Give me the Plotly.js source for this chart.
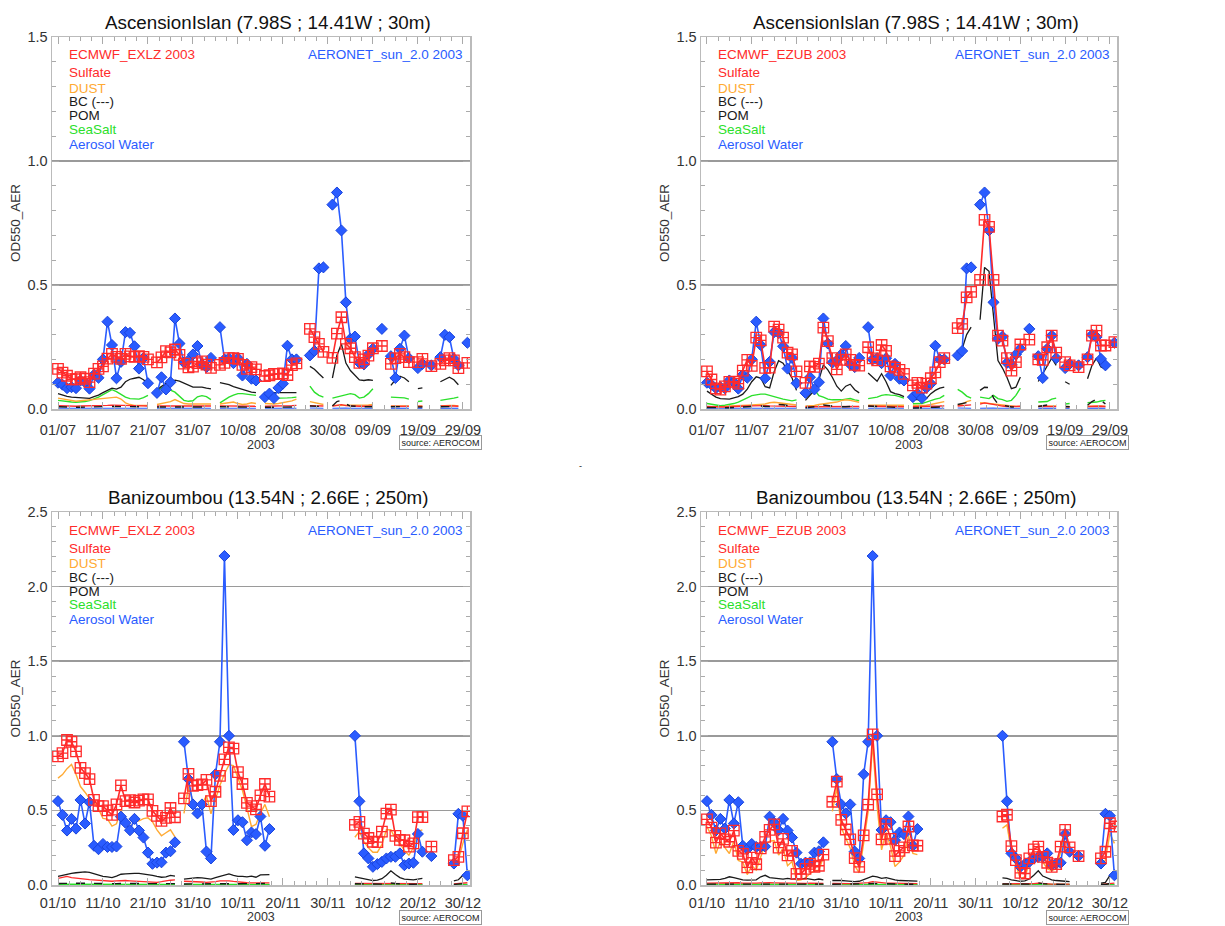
<!DOCTYPE html>
<html><head><meta charset="utf-8">
<script src="https://cdn.plot.ly/plotly-3.0.1.min.js"></script>
<style>html,body{margin:0;padding:0;background:#fff}</style>
</head><body><div id="chart" style="width:1225px;height:926px"></div>
<script>
const N = null;

// ---------- Ascension Island, Jul-Sep 2003 (index 0 = 01/07) ----------
const aeronetTop = [
 0.106,0.098,0.084,0.088,0.084,0.115,0.108,0.082,0.138,0.126,0.2,0.352,0.258,0.124,0.19,0.31,0.307,0.253,0.163,0.206,0.104,
 N,
 0.065,0.128,0.079,0.108,0.365,0.264,0.187,0.196,0.22,0.254,0.18,0.169,0.206,
 N,
 0.33,0.2,0.205,0.185,0.205,0.135,0.182,0.122,0.115,
 N,
 0.048,0.062,0.044,0.085,0.102,0.255,0.2,0.2,
 N,N,
 0.216,0.234,0.567,0.571,
 N,
 0.824,0.873,0.72,0.43,0.283,0.292,0.186,0.18,0.22,0.243,
 N, 0.323, N,
 0.213,0.125,0.243,0.296,0.205,
 N, 0.165,0.182, N, 0.176, N,
 0.209,0.299,0.29,0.202,0.176,
 N, 0.267];

const exlzTotalTop = [
 0.162,0.147,0.134,0.12,0.12,0.128,0.122,0.108,0.143,0.162,0.172,0.203,0.222,0.21,0.202,0.222,0.212,0.21,0.213,0.21,0.2,
 N,
 0.188,0.208,0.233,0.228,0.24,0.218,0.183,0.168,0.171,0.185,0.192,0.179,0.166,
 N,
 0.178,0.186,0.205,0.205,0.202,0.178,0.162,0.169,0.16,
 N,
 0.133,0.136,0.142,0.142,0.144,0.137,0.177,0.184,
 N,N,
 0.323,0.29,0.263,0.23,
 N,
 0.206,0.304,0.37,0.263,0.245,0.209,0.186,0.2,0.215,0.245,
 N, 0.254, N,
 0.182,0.205,0.222,0.209,0.189,
 N, 0.189,0.202, N, 0.173, N,
 0.182,0.196,0.205,0.196,0.165,
 N, 0.186];
const exlzSulfateTop = [
 0.014,0.013,0.012,0.011,0.011,0.012,0.012,0.012,0.013,0.014,0.015,0.015,0.016,0.016,0.015,0.014,0.014,0.013,0.013,0.013,0.012,
 N,
 0.012,0.012,0.013,0.013,0.014,0.013,0.012,0.012,0.011,0.011,0.012,0.012,0.012,
 N,
 0.013,0.013,0.012,0.012,0.012,0.011,0.011,0.011,0.011,
 N,
 0.011,0.011,0.011,0.012,0.012,0.013,0.014,0.015,
 N,N,
 0.014,0.013,0.012,0.012,
 N,
 0.012,0.015,0.018,0.014,0.012,0.012,0.011,0.011,0.012,0.013,
 N, 0.012, N,
 0.011,0.011,0.012,0.012,0.011,
 N, 0.011,0.011, N, 0.011, N,
 0.012,0.013,0.013,0.012,0.011,
 N, 0.011];
const exlzDustTop = [
 0.044,0.04,0.036,0.032,0.031,0.033,0.035,0.036,0.038,0.04,0.042,0.044,0.046,0.048,0.04,0.025,0.018,0.014,0.014,0.014,0.014,
 N,
 0.018,0.022,0.025,0.03,0.038,0.03,0.022,0.02,0.02,0.02,0.02,0.02,0.02,
 N,
 0.02,0.022,0.025,0.028,0.022,0.018,0.02,0.025,0.022,
 N,
 0.022,0.02,0.02,0.022,0.025,0.028,0.033,0.04,
 N,N,
 0.03,0.025,0.02,0.018,
 N,
 0.014,0.014,0.015,0.014,0.014,0.014,0.015,0.015,0.016,0.018,
 N, 0.015, N,
 0.012,0.012,0.012,0.012,0.012,
 N, 0.012,0.012, N, 0.01, N,
 0.012,0.014,0.014,0.014,0.012,
 N, 0.012];
const exlzBCTop = [
 0.009,0.008,0.008,0.007,0.007,0.007,0.008,0.008,0.008,0.009,0.009,0.01,0.01,0.01,0.01,0.01,0.01,0.01,0.01,0.01,0.009,
 N,
 0.008,0.008,0.009,0.009,0.01,0.01,0.009,0.009,0.008,0.008,0.008,0.008,0.008,
 N,
 0.009,0.009,0.009,0.008,0.008,0.008,0.007,0.007,0.007,
 N,
 0.007,0.007,0.007,0.007,0.007,0.007,0.008,0.008,
 N,N,
 0.012,0.011,0.01,0.01,
 N,
 0.012,0.03,0.035,0.02,0.012,0.01,0.009,0.009,0.009,0.009,
 N, 0.009, N,
 0.009,0.01,0.011,0.011,0.01,
 N, 0.008,0.008, N, 0.008, N,
 0.009,0.01,0.011,0.01,0.009,
 N, 0.009];
const exlzPOMTop = [
 0.062,0.056,0.051,0.048,0.046,0.045,0.044,0.043,0.05,0.056,0.066,0.076,0.084,0.08,0.088,0.11,0.12,0.124,0.128,0.118,0.103,
 N,
 0.078,0.089,0.103,0.108,0.116,0.112,0.105,0.095,0.088,0.088,0.088,0.084,0.081,
 N,
 0.106,0.102,0.098,0.09,0.084,0.078,0.071,0.068,0.066,
 N,
 0.066,0.066,0.065,0.066,0.066,0.066,0.066,0.066,
 N,N,
 0.172,0.16,0.142,0.125,
 N,
 0.125,0.216,0.263,0.185,0.155,0.135,0.117,0.115,0.118,0.115,
 N, 0.11, N,
 0.095,0.118,0.132,0.125,0.11,
 N, 0.082,0.085, N, 0.09, N,
 0.11,0.12,0.128,0.118,0.098,
 N, 0.1];
const exlzSeaSaltTop = [
 0.035,0.032,0.03,0.028,0.027,0.028,0.03,0.034,0.04,0.048,0.058,0.068,0.078,0.07,0.058,0.048,0.042,0.04,0.04,0.046,0.055,
 N,
 0.072,0.085,0.089,0.076,0.068,0.051,0.035,0.031,0.033,0.049,0.054,0.05,0.038,
 N,
 0.025,0.038,0.048,0.056,0.062,0.062,0.06,0.058,0.055,
 N,
 0.042,0.042,0.043,0.044,0.045,0.045,0.046,0.048,
 N,N,
 0.092,0.068,0.055,0.048,
 N,
 0.044,0.048,0.055,0.058,0.062,0.058,0.044,0.048,0.062,0.082,
 N, 0.04, N,
 0.048,0.047,0.046,0.045,0.04,
 N, 0.03,0.032, N, 0.03, N,
 0.035,0.037,0.04,0.044,0.048,
 N, 0.04];
const exlzWaterTop = [
 0.003,0.003,0.003,0.003,0.003,0.003,0.003,0.003,0.003,0.004,0.004,0.004,0.004,0.004,0.004,0.004,0.004,0.004,0.004,0.003,0.003,
 N,
 0.003,0.003,0.003,0.003,0.004,0.004,0.003,0.003,0.003,0.003,0.003,0.003,0.003,
 N,
 0.003,0.003,0.003,0.003,0.003,0.003,0.003,0.003,0.003,
 N,
 0.003,0.003,0.003,0.003,0.003,0.003,0.003,0.003,
 N,N,
 0.004,0.004,0.003,0.003,
 N,
 0.003,0.004,0.005,0.004,0.003,0.003,0.003,0.003,0.003,0.003,
 N, 0.003, N,
 0.003,0.003,0.003,0.003,0.003,
 N, 0.003,0.003, N, 0.003, N,
 0.003,0.003,0.003,0.003,0.003,
 N, 0.003];

const ezubTotalTop = [
 0.152,0.119,0.083,0.078,0.091,0.109,0.11,0.102,0.155,0.198,0.174,0.288,0.277,0.166,0.167,0.332,0.32,0.288,0.227,0.22,0.152,
 N,
 0.105,0.172,0.17,0.183,0.328,0.274,0.205,0.16,0.198,0.22,0.198,0.178,0.175,
 N,
 0.249,0.204,0.196,0.258,0.234,0.172,0.167,0.158,0.142,
 N,
 0.095,0.105,0.086,0.102,0.124,0.148,0.189,0.205,
 N,N,
 0.326,0.343,0.45,0.472,
 N,
 0.521,0.763,0.734,0.521,0.296,0.276,0.205,0.155,0.189,0.26,
 N, 0.28, N,
 0.2,0.198,0.249,0.296,0.227,
 N, 0.189,0.176, N, 0.169, N,
 0.2,0.296,0.316,0.256,0.256,
 N, 0.27];
const ezubSulfateTop = [
 0.01,0.009,0.008,0.008,0.008,0.009,0.009,0.01,0.011,0.012,0.013,0.014,0.014,0.014,0.013,0.013,0.012,0.012,0.011,0.011,0.01,
 N,
 0.009,0.009,0.01,0.011,0.012,0.012,0.011,0.011,0.01,0.01,0.01,0.01,0.01,
 N,
 0.011,0.011,0.01,0.01,0.01,0.01,0.009,0.009,0.009,
 N,
 0.009,0.009,0.009,0.01,0.01,0.011,0.012,0.013,
 N,N,
 0.012,0.013,0.015,0.017,
 N,
 0.02,0.025,0.022,0.018,0.014,0.012,0.01,0.01,0.01,0.011,
 N, 0.01, N,
 0.01,0.01,0.011,0.011,0.01,
 N, 0.009,0.009, N, 0.009, N,
 0.01,0.011,0.012,0.011,0.01,
 N, 0.01];
const ezubDustTop = [
 0.008,0.008,0.007,0.008,0.01,0.012,0.012,0.013,0.014,0.015,0.016,0.017,0.018,0.02,0.025,0.027,0.025,0.022,0.02,0.018,0.016,
 N,
 0.012,0.012,0.014,0.018,0.02,0.022,0.024,0.028,0.034,0.037,0.035,0.032,0.027,
 N,
 0.015,0.015,0.014,0.015,0.016,0.016,0.016,0.015,0.015,
 N,
 0.014,0.014,0.014,0.015,0.018,0.022,0.027,0.03,
 N,N,
 0.015,0.02,0.03,0.035,
 N,
 0.025,0.025,0.022,0.02,0.018,0.015,0.012,0.012,0.01,0.01,
 N, 0.01, N,
 0.012,0.012,0.012,0.012,0.012,
 N, 0.01,0.01, N, 0.01, N,
 0.01,0.012,0.012,0.012,0.01,
 N, 0.01];
const ezubBCTop = [
 0.006,0.005,0.005,0.005,0.005,0.005,0.006,0.006,0.007,0.008,0.01,0.012,0.012,0.01,0.01,0.014,0.018,0.017,0.015,0.012,0.008,
 N,
 0.005,0.006,0.008,0.011,0.016,0.015,0.012,0.009,0.008,0.009,0.01,0.008,0.007,
 N,
 0.012,0.011,0.01,0.012,0.01,0.007,0.006,0.006,0.005,
 N,
 0.004,0.004,0.004,0.005,0.006,0.007,0.008,0.009,
 N,N,
 0.018,0.022,0.028,0.03,
 N,
 0.075,0.088,0.086,0.045,0.02,0.016,0.012,0.008,0.008,0.012,
 N, 0.011, N,
 0.01,0.013,0.016,0.019,0.016,
 N, 0.01,0.009, N, 0.009, N,
 0.015,0.03,0.04,0.035,0.02,
 N, 0.014];
const ezubPOMTop = [
 0.072,0.06,0.048,0.042,0.04,0.04,0.045,0.05,0.06,0.08,0.11,0.13,0.125,0.09,0.085,0.15,0.195,0.185,0.155,0.125,0.075,
 N,
 0.035,0.055,0.075,0.118,0.178,0.158,0.128,0.092,0.072,0.092,0.1,0.078,0.065,
 N,
 0.145,0.13,0.112,0.142,0.11,0.07,0.062,0.058,0.05,
 N,
 0.038,0.038,0.033,0.042,0.062,0.075,0.084,0.088,
 N,N,
 0.205,0.243,0.3,0.33,
 N,
 0.36,0.571,0.555,0.37,0.195,0.165,0.128,0.082,0.088,0.129,
 N, 0.12, N,
 0.111,0.142,0.176,0.205,0.176,
 N, 0.11,0.1, N, 0.1, N,
 0.122,0.176,0.205,0.169,0.162,
 N, 0.15];
const ezubSeaSaltTop = [
 0.022,0.018,0.014,0.013,0.015,0.018,0.022,0.028,0.035,0.045,0.054,0.058,0.06,0.06,0.056,0.05,0.045,0.04,0.035,0.033,0.037,
 N,
 0.048,0.068,0.078,0.054,0.048,0.04,0.037,0.036,0.037,0.04,0.042,0.037,0.034,
 N,
 0.042,0.045,0.048,0.055,0.058,0.056,0.055,0.05,0.044,
 N,
 0.021,0.022,0.022,0.028,0.035,0.04,0.044,0.055,
 N,N,
 0.079,0.068,0.052,0.044,
 N,
 0.048,0.044,0.042,0.055,0.042,0.038,0.031,0.035,0.055,0.084,
 N, 0.04, N,
 0.028,0.028,0.03,0.04,0.044,
 N, 0.02,0.022, N, 0.02, N,
 0.025,0.025,0.028,0.032,0.035,
 N, 0.03];
const ezubWaterTop = exlzWaterTop.slice();

// ---------- Banizoumbou, Oct-Dec 2003 (index 0 = 01/10) ----------
const aeronetBot = [
 0.562,0.47,0.365,0.443,0.378,0.57,0.412,0.555,0.263,0.24,0.275,0.255,0.255,0.258,0.458,0.417,0.367,0.443,0.365,0.318,0.217,0.142,0.15,0.152,0.217,0.226,0.286,
 N,
 0.96,0.71,0.54,0.48,0.54,0.224,0.178,0.742,0.96,2.205,1.0,0.369,0.434,0.421,0.3,0.352,0.341,0.459,0.263,0.375,
 N,N,N,N,N,N,N,N,N,N,N,N,N,N,N,N,N,N,
 1.0,0.561,0.212,0.178,0.122,0.14,0.155,0.178,0.189,0.189,0.212,0.133,0.144,0.149,0.342,0.223,
 N, 0.194, N,N,N,N,
 0.144,0.477,0.464,0.065];

const exlzTotalBot = [
 0.862,0.884,0.972,0.96,0.895,0.785,0.75,0.71,0.571,0.528,0.528,0.5,0.47,0.54,0.668,0.562,0.569,0.553,0.566,0.574,0.574,0.497,0.463,0.43,0.45,0.516,0.454,
 N,
 0.58,0.745,0.665,0.669,0.674,0.704,0.562,0.625,0.732,0.842,0.923,0.914,0.757,0.677,0.551,0.528,0.507,0.601,0.677,0.592,
 N,N,N,N,N,N,N,N,N,N,N,N,N,N,N,N,N,N,
 0.403,0.423,0.345,0.315,0.29,0.288,0.358,0.479,0.505,0.329,0.302,0.3,0.257,0.279,0.455,0.455,
 N, 0.257, N,N,N,N,
 0.167,0.189,0.347,0.493];
const exlzSulfateBot = [
 0.045,0.052,0.058,0.05,0.045,0.042,0.04,0.036,0.033,0.03,0.028,0.026,0.025,0.028,0.03,0.03,0.028,0.026,0.024,0.022,0.022,0.02,0.018,0.022,0.028,0.032,0.034,
 N,
 0.025,0.025,0.024,0.022,0.02,0.018,0.018,0.022,0.028,0.03,0.028,0.024,0.02,0.018,0.015,0.014,0.013,0.013,0.014,0.014,
 N,N,N,N,N,N,N,N,N,N,N,N,N,N,N,N,N,N,
 0.01,0.01,0.009,0.008,0.008,0.008,0.009,0.01,0.012,0.01,0.009,0.008,0.008,0.008,0.009,0.009,
 N, 0.008, N,N,N,N,
 0.008,0.01,0.012,0.015];
const exlzDustBot = [
 0.716,0.74,0.78,0.808,0.742,0.66,0.622,0.58,0.556,0.51,0.446,0.442,0.395,0.41,0.505,0.398,0.39,0.424,0.43,0.445,0.45,0.425,0.37,0.33,0.35,0.37,0.323,
 N,
 0.48,0.657,0.563,0.54,0.54,0.6,0.477,0.575,0.669,0.744,0.805,0.8,0.716,0.634,0.516,0.392,0.406,0.481,0.54,0.458,
 N,N,N,N,N,N,N,N,N,N,N,N,N,N,N,N,N,N,
 0.32,0.36,0.29,0.25,0.22,0.22,0.27,0.37,0.37,0.31,0.28,0.23,0.2,0.25,0.36,0.37,
 N, 0.2, N,N,N,N,
 0.133,0.167,0.279,0.369];
const exlzBCBot = [
 0.01,0.011,0.012,0.012,0.012,0.012,0.012,0.011,0.01,0.009,0.009,0.008,0.008,0.009,0.01,0.01,0.01,0.01,0.01,0.01,0.009,0.009,0.008,0.008,0.008,0.009,0.009,
 N,
 0.007,0.007,0.008,0.008,0.008,0.007,0.007,0.008,0.009,0.01,0.011,0.01,0.009,0.009,0.008,0.009,0.008,0.01,0.01,0.01,
 N,N,N,N,N,N,N,N,N,N,N,N,N,N,N,N,N,N,
 0.008,0.007,0.006,0.005,0.005,0.005,0.006,0.009,0.013,0.01,0.007,0.006,0.005,0.005,0.006,0.007,
 N, 0.006, N,N,N,N,
 0.004,0.005,0.009,0.013];
const exlzPOMBot = [
 0.058,0.065,0.075,0.078,0.082,0.085,0.088,0.085,0.075,0.065,0.058,0.054,0.05,0.06,0.072,0.075,0.078,0.078,0.078,0.075,0.07,0.065,0.058,0.052,0.055,0.065,0.06,
 N,
 0.04,0.045,0.048,0.05,0.048,0.042,0.04,0.05,0.058,0.068,0.075,0.065,0.058,0.058,0.055,0.06,0.052,0.068,0.07,0.07,
 N,N,N,N,N,N,N,N,N,N,N,N,N,N,N,N,N,N,
 0.055,0.048,0.04,0.034,0.03,0.032,0.042,0.065,0.095,0.07,0.05,0.04,0.035,0.035,0.04,0.045,
 N, 0.04, N,N,N,N,
 0.027,0.035,0.065,0.09];
const exlzSeaSaltBot = [
 0.005,0.005,0.005,0.005,0.005,0.005,0.005,0.005,0.004,0.004,0.004,0.004,0.004,0.004,0.005,0.005,0.005,0.005,0.005,0.005,0.004,0.004,0.004,0.004,0.004,0.004,0.004,
 N,
 0.004,0.004,0.004,0.004,0.004,0.004,0.004,0.004,0.005,0.005,0.005,0.005,0.004,0.004,0.004,0.004,0.004,0.004,0.004,0.004,
 N,N,N,N,N,N,N,N,N,N,N,N,N,N,N,N,N,N,
 0.004,0.004,0.004,0.004,0.004,0.004,0.004,0.004,0.005,0.004,0.004,0.004,0.004,0.004,0.004,0.004,
 N, 0.004, N,N,N,N,
 0.003,0.003,0.004,0.004];
const exlzWaterBot = [
 0.002,0.002,0.002,0.002,0.002,0.002,0.002,0.002,0.002,0.002,0.002,0.002,0.002,0.002,0.002,0.002,0.002,0.002,0.002,0.002,0.002,0.002,0.002,0.002,0.002,0.002,0.002,
 N,
 0.002,0.002,0.002,0.002,0.002,0.002,0.002,0.002,0.002,0.002,0.002,0.002,0.002,0.002,0.002,0.002,0.002,0.002,0.002,0.002,
 N,N,N,N,N,N,N,N,N,N,N,N,N,N,N,N,N,N,
 0.002,0.002,0.002,0.002,0.002,0.002,0.002,0.002,0.002,0.002,0.002,0.002,0.002,0.002,0.002,0.002,
 N, 0.002, N,N,N,N,
 0.002,0.002,0.002,0.002];

const ezubTotalBot = [
 0.44,0.384,0.284,0.346,0.306,0.29,0.364,0.229,0.208,0.118,0.183,0.139,0.246,0.323,0.369,0.407,0.25,0.309,0.198,0.229,0.074,0.074,0.108,0.142,0.122,0.129,0.204,
 N,
 0.558,0.693,0.436,0.372,0.306,0.18,0.122,0.332,0.539,1.01,0.608,0.306,0.41,0.309,0.194,0.229,0.252,0.392,0.265,0.263,
 N,N,N,N,N,N,N,N,N,N,N,N,N,N,N,N,N,N,
 0.459,0.471,0.261,0.167,0.081,0.077,0.178,0.239,0.257,0.189,0.149,0.122,0.14,0.257,0.369,0.252,
 N, 0.194, N,N,N,N,
 0.178,0.223,0.414,0.392];
const ezubSulfateBot = [
 0.012,0.013,0.014,0.014,0.015,0.016,0.016,0.015,0.013,0.012,0.012,0.012,0.014,0.016,0.015,0.014,0.013,0.013,0.013,0.012,0.012,0.011,0.011,0.012,0.012,0.012,0.011,
 N,
 0.01,0.011,0.01,0.01,0.009,0.009,0.01,0.012,0.016,0.022,0.018,0.014,0.013,0.012,0.011,0.01,0.01,0.01,0.009,0.009,
 N,N,N,N,N,N,N,N,N,N,N,N,N,N,N,N,N,N,
 0.008,0.008,0.007,0.007,0.006,0.006,0.007,0.009,0.012,0.009,0.007,0.006,0.006,0.006,0.006,0.006,
 N, 0.006, N,N,N,N,
 0.004,0.005,0.008,0.012];
const ezubDustBot = [
 0.392,0.329,0.211,0.293,0.251,0.211,0.293,0.164,0.153,0.07,0.129,0.1,0.188,0.27,0.293,0.298,0.2,0.246,0.129,0.157,0.03,0.035,0.047,0.077,0.094,0.1,0.188,
 N,
 0.493,0.65,0.383,0.317,0.246,0.129,0.082,0.282,0.493,0.95,0.528,0.235,0.352,0.258,0.124,0.153,0.2,0.329,0.211,0.204,
 N,N,N,N,N,N,N,N,N,N,N,N,N,N,N,N,N,N,
 0.38,0.403,0.223,0.133,0.043,0.054,0.144,0.189,0.2,0.155,0.11,0.095,0.11,0.223,0.351,0.223,
 N, 0.15, N,N,N,N,
 0.133,0.167,0.347,0.279];
const ezubBCBot = [
 0.006,0.006,0.006,0.006,0.007,0.008,0.008,0.007,0.006,0.006,0.006,0.006,0.008,0.01,0.008,0.007,0.007,0.007,0.007,0.007,0.007,0.007,0.007,0.007,0.006,0.006,0.006,
 N,
 0.005,0.005,0.005,0.005,0.004,0.004,0.004,0.006,0.008,0.01,0.009,0.007,0.008,0.007,0.006,0.005,0.005,0.005,0.005,0.005,
 N,N,N,N,N,N,N,N,N,N,N,N,N,N,N,N,N,N,
 0.007,0.007,0.006,0.005,0.004,0.005,0.006,0.01,0.014,0.009,0.007,0.006,0.005,0.004,0.004,0.004,
 N, 0.004, N,N,N,N,
 0.003,0.003,0.01,0.015];
const ezubPOMBot = [
 0.035,0.035,0.033,0.038,0.045,0.055,0.05,0.04,0.035,0.033,0.033,0.035,0.055,0.065,0.05,0.045,0.045,0.04,0.045,0.04,0.042,0.04,0.045,0.04,0.035,0.04,0.035,
 N,
 0.03,0.032,0.03,0.028,0.025,0.022,0.025,0.035,0.048,0.06,0.055,0.045,0.05,0.04,0.035,0.03,0.028,0.028,0.026,0.026,
 N,N,N,N,N,N,N,N,N,N,N,N,N,N,N,N,N,N,
 0.048,0.045,0.035,0.03,0.025,0.028,0.04,0.065,0.095,0.06,0.045,0.035,0.03,0.025,0.025,0.022,
 N, 0.02, N,N,N,N,
 0.012,0.018,0.065,0.1];
const ezubSeaSaltBot = exlzSeaSaltBot.slice();
const ezubWaterBot = exlzWaterBot.slice();

// ---------- helpers ----------
function dayList(y, m, d, n) {
  const out = [];
  for (let i = 0; i < n; i++) out.push(new Date(Date.UTC(y, m - 1, d + i)).toISOString().slice(0, 10));
  return out;
}
const datesTop = dayList(2003, 7, 1, 92);
const datesBot = dayList(2003, 10, 1, 92);

const allArrays = {aeronetTop, exlzTotalTop, exlzSulfateTop, exlzDustTop, exlzBCTop, exlzPOMTop, exlzSeaSaltTop, exlzWaterTop,
  ezubTotalTop, ezubSulfateTop, ezubDustTop, ezubBCTop, ezubPOMTop, ezubSeaSaltTop, aeronetBot, exlzTotalBot, exlzSulfateBot,
  exlzDustBot, exlzBCBot, exlzPOMBot, exlzSeaSaltBot, exlzWaterBot, ezubTotalBot, ezubSulfateBot, ezubDustBot, ezubBCBot, ezubPOMBot};
for (const k in allArrays) if (allArrays[k].length !== 92) throw new Error(k + ' length ' + allArrays[k].length);

const W = 1225, H = 926;
const FONT = 'Liberation Sans, Arial, Helvetica, sans-serif';
const C = {red: '#ff2b2b', orange: '#ffaa33', black: '#1a1a1a', green: '#2be02b', blue: '#2a5cff'};

const panels = [
  {xa: 'x', ya: 'y', L: 52, R: 470, T: 37, B: 409, dates: datesTop, ymax: 1.5, tick0: '2003-07-01',
   range: ['2003-06-29 16:00', '2003-09-30 14:00'], yearY: 445, srcY: 442, standoff: 7,
   title: 'AscensionIslan (7.98S ; 14.41W ; 30m)', model: 'ECMWF_EXLZ 2003', aer: aeronetTop,
   tot: exlzTotalTop, sul: exlzSulfateTop, dust: exlzDustTop, bc: exlzBCTop, pom: exlzPOMTop, ss: exlzSeaSaltTop, wat: exlzWaterTop},
  {xa: 'x2', ya: 'y2', L: 701, R: 1117, T: 37, B: 409, dates: datesTop, ymax: 1.5, tick0: '2003-07-01',
   range: ['2003-06-29 16:00', '2003-09-30 14:00'], yearY: 445, srcY: 442, standoff: 7,
   title: 'AscensionIslan (7.98S ; 14.41W ; 30m)', model: 'ECMWF_EZUB 2003', aer: aeronetTop,
   tot: ezubTotalTop, sul: ezubSulfateTop, dust: ezubDustTop, bc: ezubBCTop, pom: ezubPOMTop, ss: ezubSeaSaltTop, wat: ezubWaterTop},
  {xa: 'x3', ya: 'y3', L: 52, R: 470, T: 512, B: 885, dates: datesBot, ymax: 2.5, tick0: '2003-10-01',
   range: ['2003-09-29 16:00', '2003-12-31 14:00'], yearY: 917, srcY: 917.5, standoff: 4,
   title: 'Banizoumbou (13.54N ; 2.66E ; 250m)', model: 'ECMWF_EXLZ 2003', aer: aeronetBot,
   tot: exlzTotalBot, sul: exlzSulfateBot, dust: exlzDustBot, bc: exlzBCBot, pom: exlzPOMBot, ss: exlzSeaSaltBot, wat: exlzWaterBot},
  {xa: 'x4', ya: 'y4', L: 701, R: 1117, T: 512, B: 885, dates: datesBot, ymax: 2.5, tick0: '2003-10-01',
   range: ['2003-09-29 16:00', '2003-12-31 14:00'], yearY: 917, srcY: 917.5, standoff: 4,
   title: 'Banizoumbou (13.54N ; 2.66E ; 250m)', model: 'ECMWF_EZUB 2003', aer: aeronetBot,
   tot: ezubTotalBot, sul: ezubSulfateBot, dust: ezubDustBot, bc: ezubBCBot, pom: ezubPOMBot, ss: ezubSeaSaltBot, wat: ezubWaterBot}
];

const px = x => x / W, py = y => 1 - y / H;
const traces = [], annotations = [], layout = {
  width: W, height: H, autosize: false, margin: {l: 0, r: 0, t: 0, b: 0},
  paper_bgcolor: '#fff', plot_bgcolor: '#fff', showlegend: false,
  font: {family: FONT, color: '#333'}, annotations
};

function ann(text, x, y, size, color, opts) {
  annotations.push(Object.assign({text, x: px(x), y: py(y), xref: 'paper', yref: 'paper', showarrow: false,
    xanchor: 'left', yanchor: 'middle', font: {family: FONT, size, color}}, opts || {}));
}

panels.forEach((p, i) => {
  const line = (y, color, w, dash) => traces.push({x: p.dates, y, xaxis: p.xa, yaxis: p.ya, mode: 'lines',
    connectgaps: false, hoverinfo: 'skip', line: {color, width: w, dash: dash || 'solid'}});
  line(p.wat, C.blue, 1.2);
  line(p.ss, C.green, 1.4);
  line(p.dust, C.orange, 1.4);
  line(p.sul, C.red, 1.3);
  line(p.pom, C.black, 1.3);
  line(p.bc, C.black, 1.4, 'dash');
  traces.push({x: p.dates, y: p.aer, xaxis: p.xa, yaxis: p.ya, mode: 'lines+markers', connectgaps: false,
    line: {color: C.blue, width: 1.6},
    marker: {symbol: 'diamond', size: 8.5, color: C.blue, line: {color: '#1a44dd', width: 1}}});
  traces.push({x: p.dates, y: p.tot, xaxis: p.xa, yaxis: p.ya, mode: 'lines+markers', connectgaps: false,
    line: {color: C.red, width: 1.6},
    marker: {symbol: 'square-cross-open', size: 10.5, color: C.red, line: {color: C.red, width: 1.3}}});

  const n = i === 0 ? '' : String(i + 1);
  layout['xaxis' + n] = {
    domain: [px(p.L), px(p.R)], anchor: p.ya, type: 'date', range: p.range,
    tick0: p.tick0, dtick: 864000000, tickformat: '%d/%m',
    ticks: 'inside', ticklen: 7, tickwidth: 1, tickcolor: '#aaa', ticklabelstandoff: p.standoff,
    minor: {ticks: 'inside', ticklen: 4, tickcolor: '#aaa', dtick: 216000000, tick0: p.tick0, showgrid: false},
    showline: true, linecolor: '#bbb', linewidth: 1.5, mirror: 'ticks', showgrid: false, zeroline: false,
    tickfont: {family: FONT, size: 14.5, color: '#333'}, fixedrange: true
  };
  layout['yaxis' + n] = {
    domain: [py(p.B), py(p.T)], anchor: p.xa, range: [0, p.ymax], tick0: 0, dtick: 0.5, tickformat: '.1f',
    ticks: 'inside', ticklen: 7, tickwidth: 1, tickcolor: '#aaa',
    minor: {ticks: 'inside', ticklen: 4, tickcolor: '#aaa', dtick: 0.1, showgrid: false},
    showline: true, linecolor: '#bbb', linewidth: 1.5, mirror: 'ticks',
    showgrid: true, gridcolor: '#9a9a9a', gridwidth: 1.5, zeroline: false,
    tickfont: {family: FONT, size: 14.5, color: '#333'}, fixedrange: true
  };

  const cx = (p.L + p.R) / 2;
  ann(p.title, cx + 7, p.T - 15, 18.8, '#111', {xanchor: 'center'});
  ann(p.model, p.L + 15, p.T + 18, 13.5, C.red);
  ann('AERONET_sun_2.0 2003', p.R - 5, p.T + 18, 13.5, C.blue, {xanchor: 'right'});
  ann('Sulfate', p.L + 15, p.T + 36, 13.5, C.red);
  ann('DUST', p.L + 15, p.T + 51, 13.5, C.orange);
  ann('BC (---)', p.L + 15, p.T + 65, 13.5, C.black);
  ann('POM', p.L + 15, p.T + 79, 13.5, C.black);
  ann('SeaSalt', p.L + 15, p.T + 92, 13.5, C.green);
  ann('Aerosol Water', p.L + 15, p.T + 107, 13.5, C.blue);
  ann('OD550_AER', p.L - 37, (p.T + p.B) / 2, 13.5, '#333', {xanchor: 'center', textangle: -90});
  ann('2003', cx, p.yearY, 12.5, '#333', {xanchor: 'center'});
  ann('source: AEROCOM', p.R - 30, p.srcY, 9, '#222',
    {xanchor: 'center', bordercolor: '#999', borderwidth: 1, borderpad: 1.5, bgcolor: '#fff'});
});
// small stray mark between the top and bottom rows
ann('-', 580, 466, 9, '#222', {xanchor: 'center'});

Plotly.newPlot('chart', traces, layout, {staticPlot: true});
</script>
</body></html>
